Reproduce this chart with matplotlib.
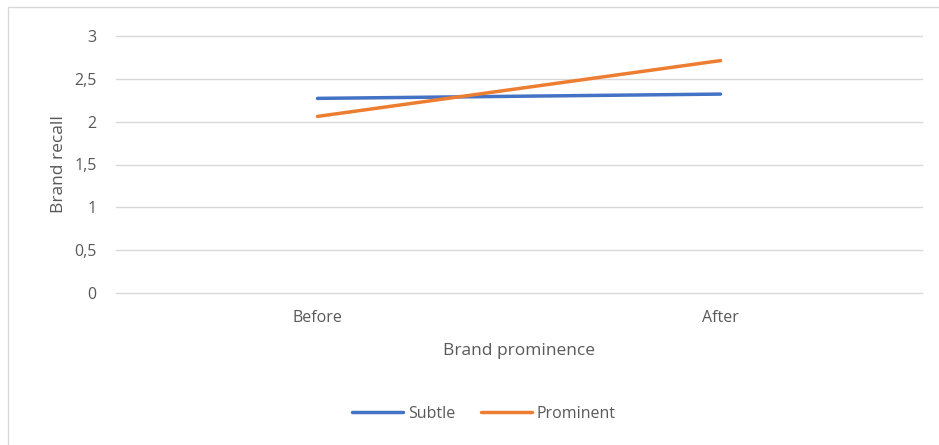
import matplotlib.pyplot as plt
from matplotlib.patches import Rectangle

categories = ['Before', 'After']
subtle = [2.27, 2.32]
prominent = [2.06, 2.71]
yticks = [0, 0.5, 1, 1.5, 2, 2.5, 3]

plt.rcParams['font.family'] = ['Open Sans', 'DejaVu Sans']
txt = '#595959'

fig = plt.figure(figsize=(9.39, 4.45), dpi=100)
fig.patches.append(Rectangle((8 / 939, -0.01), 1.0, 1 - 7 / 445 + 0.01, transform=fig.transFigure,
                             fill=False, edgecolor='#d9d9d9', linewidth=1))
ax = fig.add_axes([116 / 939, 1 - 293.3 / 445, (922 - 116) / 939, (293.3 - 35.7) / 445])

x = [0, 1]
ax.plot(x, subtle, color='#4472c4', lw=2.5, label='Subtle', solid_capstyle='round')
ax.plot(x, prominent, color='#ed7d31', lw=2.5, label='Prominent', solid_capstyle='round')

ax.set_xlim(-0.5, 1.5)
ax.set_ylim(0, 3)
ax.set_yticks(yticks)
ax.set_yticklabels([str(t).replace('.', ',') if t % 1 else str(int(t)) for t in yticks])
ax.set_xticks(x)
ax.set_xticklabels(categories)
ax.grid(axis='y', color='#d9d9d9', lw=1)
for gl in ax.get_ygridlines():
    gl.set_clip_on(False)
ax.set_axisbelow(True)
for s in ax.spines.values():
    s.set_visible(False)
ax.tick_params(length=0, colors=txt, labelsize=11.5)
ax.tick_params(axis='y', pad=14)
ax.tick_params(axis='x', pad=12)

ax.set_ylabel('Brand recall', color=txt, fontsize=12.5, labelpad=5)
ax.set_xlabel('Brand prominence', color=txt, fontsize=12.5, labelpad=12)

leg = fig.legend(loc='center', bbox_to_anchor=(484 / 939, 1 - 414 / 445), ncol=2, frameon=False,
                 fontsize=11.5, handlelength=3.2, columnspacing=1.6, handletextpad=0.3)
for t in leg.get_texts():
    t.set_color(txt)

fig.savefig('out.png', dpi=100)
